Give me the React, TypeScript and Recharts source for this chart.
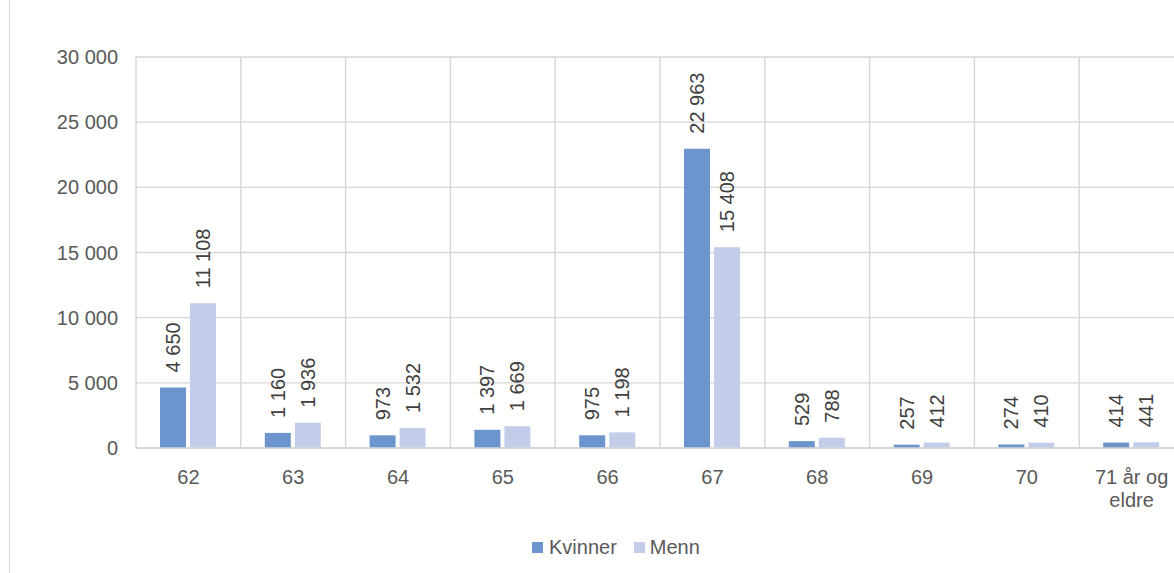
import { BarChart, Bar, XAxis, YAxis, CartesianGrid, LabelList } from 'recharts';

const categories = ['62', '63', '64', '65', '66', '67', '68', '69', '70', '71 år og eldre'];
const kvinner = [4650, 1160, 973, 1397, 975, 22963, 529, 257, 274, 414];
const menn = [11108, 1936, 1532, 1669, 1198, 15408, 788, 412, 410, 441];
const yTicks = [0, 5000, 10000, 15000, 20000, 25000, 30000];

const KVINNER_COLOR = '#6B95CC';
const MENN_COLOR = '#C3CDE9';
const FONT = '"Liberation Sans", Arial, sans-serif';

const data = categories.map((name, i) => ({ name, kvinner: kvinner[i], menn: menn[i] }));

const fmt = (v: number) => String(v).replace(/\B(?=(\d{3})+(?!\d))/g, ' ');

// greedy word wrap, about 9 characters per line
function wrap(label: string, max = 9) {
  const lines: string[] = [];
  let cur = '';
  for (const w of label.split(' ')) {
    const next = cur ? cur + ' ' + w : w;
    if (next.length > max && cur) {
      lines.push(cur);
      cur = w;
    } else {
      cur = next;
    }
  }
  if (cur) lines.push(cur);
  return lines;
}

function BarLabel(props: any) {
  const { x, y, width, value } = props;
  const cx = x + width / 2;
  const ty = y - 15;
  return (
    <text
      x={cx}
      y={ty}
      transform={`rotate(-90 ${cx} ${ty})`}
      textAnchor="start"
      dominantBaseline="central"
      fill="#404040"
      fontSize={20}
      fontFamily={FONT}
    >
      {fmt(value)}
    </text>
  );
}

function CategoryTick(props: any) {
  const { x, y, payload } = props;
  const lines = wrap(String(payload.value));
  return (
    <text x={x} y={y} textAnchor="middle" fill="#595959" fontSize={20} fontFamily={FONT}>
      {lines.map((l, i) => (
        <tspan key={i} x={x} dy={i === 0 ? 14.5 : 23.5}>
          {l}
        </tspan>
      ))}
    </text>
  );
}

export default function App() {
  return (
    <div
      style={{
        position: 'absolute',
        left: 0,
        top: 0,
        width: 1174,
        height: 573,
        overflow: 'hidden',
        background: '#fff',
        fontFamily: FONT,
      }}
    >
      <div style={{ position: 'absolute', left: 9, top: 0, width: 1, height: 573, background: '#D9D9D9' }} />
      <BarChart
        width={1190}
        height={573}
        data={data}
        margin={{ top: 57, right: 6, left: 0, bottom: 65 }}
        barGap={4}
        barSize={26}
      >
        <CartesianGrid
          stroke="#D6D6D6"
          strokeWidth={1.4}
          verticalCoordinatesGenerator={({ offset }: any) =>
            categories.map((_, i) => offset.left + (i * offset.width) / categories.length).concat(offset.left + offset.width)
          }
        />
        <XAxis
          dataKey="name"
          height={60}
          axisLine={{ stroke: '#D6D6D6', strokeWidth: 1.4 }}
          tickLine={false}
          tickSize={0}
          tickMargin={21}
          interval={0}
          tick={<CategoryTick />}
        />
        <YAxis
          width={136}
          domain={[0, 30000]}
          ticks={yTicks}
          axisLine={false}
          tickLine={false}
          tickSize={0}
          tickMargin={18}
          tickFormatter={fmt}
          tick={{ fill: '#595959', fontSize: 20, fontFamily: FONT }}
        />
        <Bar dataKey="kvinner" fill={KVINNER_COLOR} isAnimationActive={false}>
          <LabelList dataKey="kvinner" content={<BarLabel />} />
        </Bar>
        <Bar dataKey="menn" fill={MENN_COLOR} isAnimationActive={false}>
          <LabelList dataKey="menn" content={<BarLabel />} />
        </Bar>
      </BarChart>
      <div
        style={{
          position: 'absolute',
          left: 532,
          top: 536,
          display: 'flex',
          alignItems: 'center',
          fontSize: 20,
          color: '#595959',
          lineHeight: '22px',
        }}
      >
        <span style={{ width: 11, height: 11, background: KVINNER_COLOR, marginRight: 6 }} />
        <span style={{ marginRight: 17 }}>Kvinner</span>
        <span style={{ width: 11, height: 11, background: MENN_COLOR, marginRight: 5 }} />
        <span>Menn</span>
      </div>
    </div>
  );
}
